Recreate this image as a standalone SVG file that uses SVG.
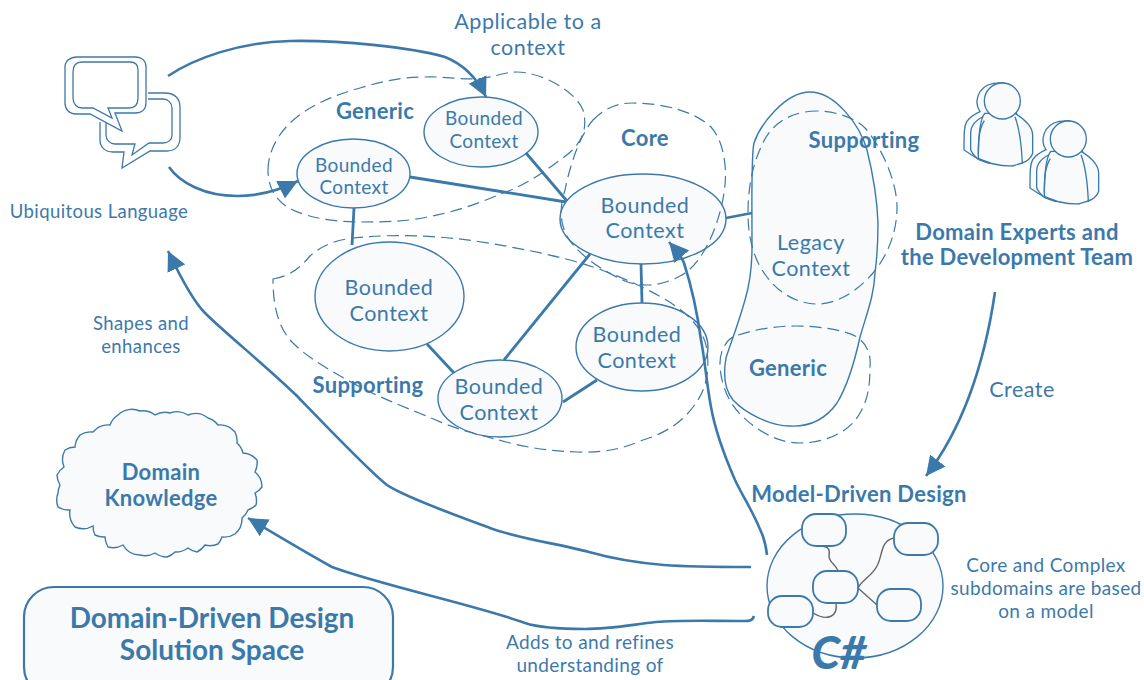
<svg xmlns="http://www.w3.org/2000/svg" width="1144" height="680" viewBox="0 0 1144 680">
<style>
text{font-family:Lato,"Liberation Sans",sans-serif;fill:#3c79ab;text-anchor:middle}
.b{font-weight:700}
.f{fill:#f8fafc;stroke:#3c79ab;stroke-width:1.4}
.r{fill:#f8fafc;stroke:#3c79ab;stroke-width:1.8}
.d{fill:none;stroke:#3c79ab;stroke-width:1.2;stroke-dasharray:12 6}
.c{fill:none;stroke:#3c79ab;stroke-width:2.8}
.a{fill:none;stroke:#3c79ab;stroke-width:2.6}
.g{fill:none;stroke:#666;stroke-width:1.4}
.o{fill:none;stroke:#3c79ab;stroke-width:1.3}
.pb{fill:#f8fafc;stroke:#3c79ab;stroke-width:4}
.pl{fill:none;stroke:#3c79ab;stroke-width:4}
.t20{font-size:21.5px;letter-spacing:.5px}
.t18{font-size:19px;letter-spacing:.35px}
.t17{font-size:18.5px;letter-spacing:.4px}
.tb{font-size:22px;letter-spacing:.3px}
</style>
<defs>
<marker id="ah" viewBox="0 0 10 10" refX="10" refY="5" markerWidth="7.500" markerHeight="7.500" orient="auto" markerUnits="strokeWidth"><path d="M0 0L10 5L0 10Z" fill="#3c79ab"/></marker>
<g id="person" transform="scale(.3333)">
<path class="pb" d="M90 125C72 100 80 50 130 40L160 38L200 130L217 280L120 280C90 275 75 260 65 255L42 240C42 190 42 170 50 155C60 140 75 132 90 125Z"/>
<path class="pb" d="M110 135C85 145 62 160 62 190L62 240C68 255 78 262 85 268L120 280L190 287L150 130Z"/>
<path class="pb" d="M105 130C90 145 85 200 85 265C120 280 150 290 190 287C215 280 240 275 248 250L248 195C248 175 230 150 195 130Z"/>
<path class="pl" d="M103 152C85 180 85 220 85 255"/>
<path class="pl" d="M195 140C210 180 215 230 217 280"/>
<circle class="pb" cx="157" cy="93" r="54"/>
</g>
</defs>

<g id="bc-generic-2"><ellipse class="f" cx="481" cy="132" rx="57" ry="35"/><text class="t18" x="484" y="124.500">Bounded</text><text class="t18" x="484" y="147.500">Context</text></g>
<g id="bc-generic-1"><ellipse class="f" cx="353.500" cy="173.500" rx="56.500" ry="34.500"/><text class="t18" x="354" y="171.500">Bounded</text><text class="t18" x="354" y="193.500">Context</text></g>
<g id="bc-core"><ellipse class="f" cx="643" cy="219" rx="83" ry="45"/><text class="t20" x="645" y="212.500">Bounded</text><text class="t20" x="645" y="237.500">Context</text></g>
<g id="bc-sup-1"><ellipse class="f" cx="389.500" cy="296.500" rx="74.500" ry="54.500"/><text class="t20" x="389" y="294.500">Bounded</text><text class="t20" x="389" y="320.500">Context</text></g>
<g id="bc-sup-2"><ellipse class="f" cx="500" cy="398.500" rx="62" ry="38.500"/><text class="t20" x="499" y="393.500">Bounded</text><text class="t20" x="499" y="419.500">Context</text></g>
<g id="bc-sup-3"><ellipse class="f" cx="642" cy="347" rx="66" ry="44"/><text class="t20" x="637" y="341.500">Bounded</text><text class="t20" x="637" y="367.500">Context</text></g>

<g id="group-generic">
<path class="d" d="M268 170C268 150 280 130 297 117C315 103 335 95 360 88C380 82 400 77 425 77C445 76 465 81 485 78C497 76 505 72 517 72C540 72 575 90 583 110C590 135 575 150 560 160C540 175 525 185 503 193C480 203 455 212 427 217C405 222 380 222 360 222C335 222 310 218 293 210C278 203 268 190 268 170Z"/>
<text class="b tb" x="375" y="118.500">Generic</text>
</g>
<g id="group-core">
<path class="d" d="M593 120C605 108 618 103 632 103C665 103 695 112 711 127C723 140 727 165 725 185C723 210 708 262 680 276C660 287 640 287 625 281C600 270 572 250 565 232C558 215 562 200 565 190C570 165 580 135 593 120Z"/>
<text class="b tb" x="645" y="145.500">Core</text>
</g>
<g id="group-supporting">
<path class="d" d="M273 279C290 276 300 268 310 256C325 242 345 238 365 237C400 234 440 236 475 241C520 248 560 256 593 267C625 278 655 292 677 307C695 320 705 335 707 350C710 375 705 392 693 407C680 425 660 435 643 440C620 450 600 453 577 452C550 451 530 448 510 443C485 436 465 432 443 423C415 411 385 400 360 387C335 373 310 360 293 343C280 330 273 310 273 279Z"/>
<text class="b tb" x="368" y="392.500">Supporting</text>
</g>

<g id="legacy">
<path class="f" d="M810 92C785 92 760 125 754 143C751 155 752 200 752 247C752 275 748 290 745 300C738 325 730 345 726 358C723 375 725 390 733 400C745 413 770 426 790 426C810 427 825 420 837 403C848 385 855 360 860 337C868 310 874 295 875 273C878 250 878 240 878 223C877 195 872 170 867 150C860 125 835 92 810 92Z"/>
<path class="d" d="M817 111C790 111 770 125 762 145C752 165 748 190 748 213C748 240 755 262 767 277C780 295 800 304 817 304C840 304 860 288 873 273C888 255 897 232 897 207C897 180 880 145 865 128C855 118 835 111 817 111Z"/>
<path class="d" d="M720 363C720 350 727 340 733 337C750 330 775 326 795 326C820 326 845 330 857 337C868 345 871 355 870 367C870 385 868 400 860 413C850 432 825 443 800 443C775 443 755 428 743 417C730 405 720 385 720 363Z"/>
<text class="b tb" x="864" y="147.500">Supporting</text>
<text class="t20" x="811" y="250">Legacy</text>
<text class="t20" x="811" y="275.500">Context</text>
<text class="b tb" x="788" y="375.500">Generic</text>
</g>

<g id="ubiquitous-language">
<path class="o" d="M77 57H135C142 57 146 61 146 67V103C146 109 142 113 135 113H115L122 131L90 114H76C69 114 65 109 65 103V67C65 61 70 57 77 57Z"/>
<path class="o" d="M82 62H130C135 62 138 65 138 70V98C138 104 135 108 129 108H108L112 118L93 108H82C77 108 73 104 73 98V72C73 66 76 62 82 62Z"/>
<path class="o" d="M148 93H165C175 93 180 99 180 107V137C180 146 175 151 167 151H150L122 168L124 152H113C105 152 100 147 100 140V122"/>
<path class="o" d="M148 99H163C168 99 172 103 172 108V135C172 140 168 143 163 143H149L132 155L135 144H115C110 144 106 140 106 135V123"/>
<text class="t17" x="99" y="217.500">Ubiquitous Language</text>
</g>

<g id="team">
<use href="#person" x="950" y="70"/>
<use href="#person" x="1016" y="108"/>
<text class="b tb" x="1017" y="239.500">Domain Experts and</text>
<text class="b tb" x="1017" y="264.500">the Development Team</text>
</g>

<g id="model-driven-design">
<ellipse class="f" cx="855" cy="586" rx="88" ry="72"/>
<path class="g" d="M822 546C829 547 830 550 829 556C829 563 836 564 838 571"/>
<path class="g" d="M894 538C880 541 883 555 877 566C872 576 862 580 858 588"/>
<path class="g" d="M858 588L877 605"/>
<path class="g" d="M836 603C838 616 828 622 813 613"/>
<rect class="r" x="802" y="514" width="44" height="32" rx="14"/>
<rect class="r" x="894" y="523" width="44" height="32" rx="14"/>
<rect class="r" x="813" y="571" width="45" height="32" rx="14"/>
<rect class="r" x="877" y="589" width="44" height="32" rx="14"/>
<rect class="r" x="768" y="596" width="45" height="31" rx="14"/>
<text class="b tb" x="859" y="501.500">Model-Driven Design</text>
<text x="839" y="669" style="font-size:46px;font-weight:900;font-style:italic">C#</text>
</g>

<g id="domain-knowledge">
<path class="f" d="M93 432A20 20 0 0 1 110 425A20 20 0 0 1 118 415A20 20 0 0 1 140 411A20 20 0 0 1 155 415A20 20 0 0 1 170 413A20 20 0 0 1 188 415A20 20 0 0 1 208 418A20 20 0 0 1 218 425A20 20 0 0 1 235 432A20 20 0 0 1 237 443A20 20 0 0 1 243 453A20 20 0 0 1 257 460A20 20 0 0 1 255 472A20 20 0 0 1 260 478A20 20 0 0 1 262 487A20 20 0 0 1 255 493A20 20 0 0 1 256 505A20 20 0 0 1 248 510A20 20 0 0 1 242 518A20 20 0 0 1 235 534A20 20 0 0 1 222 537A20 20 0 0 1 218 544A20 20 0 0 1 205 545A20 20 0 0 1 197 552A20 20 0 0 1 188 548A20 20 0 0 1 175 552A20 20 0 0 1 167 557A20 20 0 0 1 155 553A20 20 0 0 1 140 555A20 20 0 0 1 123 545A20 20 0 0 1 108 547A20 20 0 0 1 105 537A20 20 0 0 1 95 535A20 20 0 0 1 93 526A20 20 0 0 1 75 527A20 20 0 0 1 70 510A20 20 0 0 1 58 507A20 20 0 0 1 58 493A20 20 0 0 1 60 485A20 20 0 0 1 57 475A20 20 0 0 1 64 467A20 20 0 0 1 65 450A20 20 0 0 1 75 447A20 20 0 0 1 80 435A20 20 0 0 1 93 432Z"/>
<text class="b tb" x="161" y="479.500">Domain</text>
<text class="b tb" x="161" y="505.500">Knowledge</text>
</g>

<g id="title">
<rect class="f" x="24" y="587" width="369" height="110" rx="30" style="stroke-width:2.2"/>
<text class="b" x="212" y="628" style="font-size:28px">Domain-Driven Design</text>
<text class="b" x="212" y="660" style="font-size:28px">Solution Space</text>
</g>

<g id="connectors">
<path class="c" d="M410 177L566 202"/>
<path class="c" d="M526 153L567 201"/>
<path class="c" d="M354 208L352 245"/>
<path class="c" d="M427 344L454 373"/>
<path class="c" d="M504 360L590 254"/>
<path class="c" d="M641 264L642 303"/>
<path class="c" d="M563 402L597 380"/>
<path class="c" d="M726 218L752 213"/>
<path class="a" d="M168 76C195 58 240 42 290 41C340 40 410 47 445 57C465 65 477 78 486 97" marker-end="url(#ah)"/>
<path class="a" d="M169 167C180 183 205 196 237 196C260 196 280 190 298 181" marker-end="url(#ah)"/>
<path class="a" d="M995 292C985 360 965 425 926 476" marker-end="url(#ah)"/>
<path class="a" d="M751 567C720 567 690 567 664 565C640 563 610 558 589 552C560 544 520 539 490 528C455 515 405 497 387 485C370 472 325 425 296 395C265 365 225 333 205 313C192 300 178 272 168 251" marker-end="url(#ah)"/>
<path class="a" d="M754 616C752 622 748 621 740 621C710 621 680 620 656 622C630 625 610 629 585 629C560 629 540 628 525 623C480 606 380 585 332 567C305 552 285 540 248 518" marker-end="url(#ah)"/>
<path class="a" d="M767 555C766 545 763 535 759 527C752 510 742 495 735 480C722 450 715 430 711 407C706 380 705 360 701 340C697 310 691 285 684 263C681 255 676 250 669 242" marker-end="url(#ah)"/>
</g>

<g id="labels">
<text class="t20" x="528" y="28.500">Applicable to a</text>
<text class="t20" x="528" y="54.500">context</text>
<text class="t17" x="141" y="329.500">Shapes and</text>
<text class="t17" x="141" y="352.500">enhances</text>
<text class="t20" x="1022" y="396.500">Create</text>
<text class="t18" x="1046" y="572">Core and Complex</text>
<text class="t18" x="1046" y="595">subdomains are based</text>
<text class="t18" x="1046" y="618">on a model</text>
<text class="t18" x="590" y="649">Adds to and refines</text>
<text class="t18" x="590" y="672">understanding of</text>
</g>
</svg>
